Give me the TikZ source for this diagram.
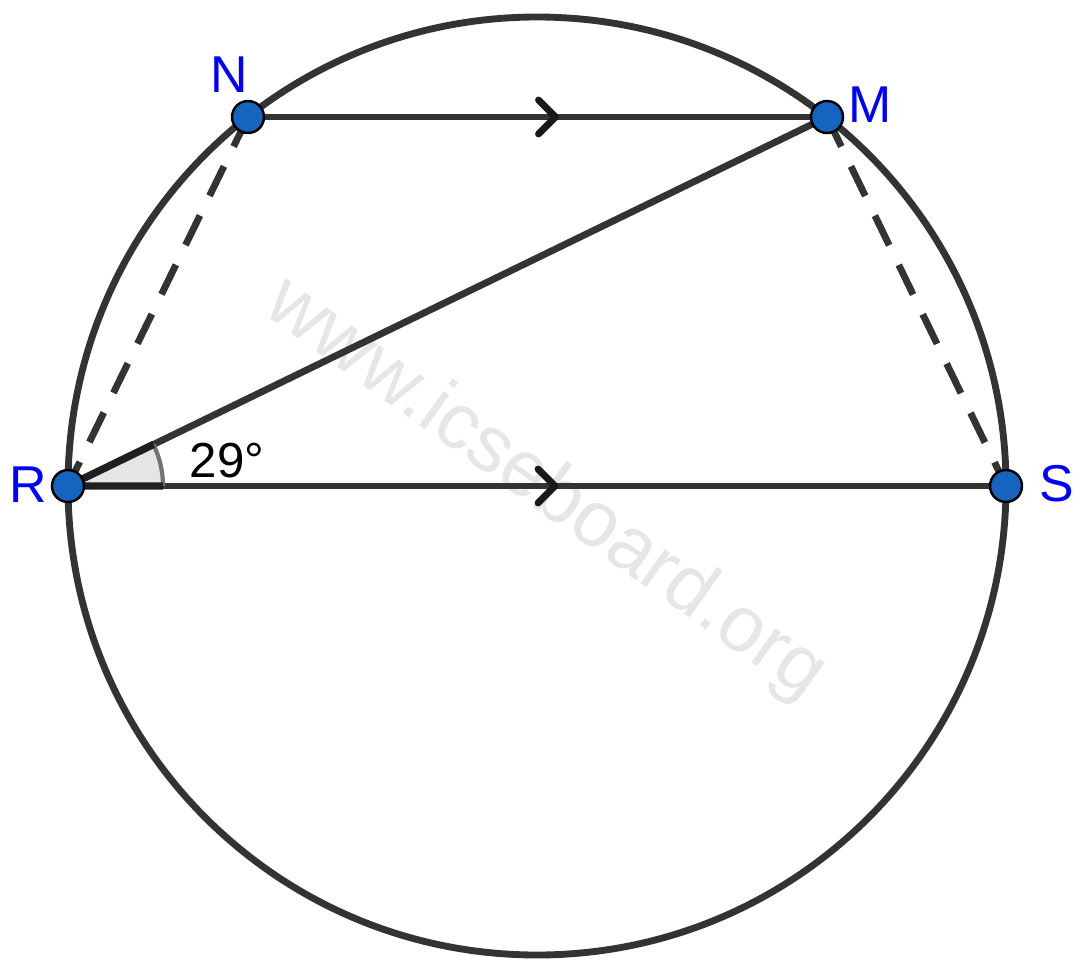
\documentclass[tikz,border=0pt]{standalone}
\usepackage{fontspec}
\setmainfont{Liberation Sans}
\usetikzlibrary{calc}
\definecolor{linegray}{HTML}{333333}
\definecolor{ptblue}{HTML}{1565C0}
\definecolor{lblblue}{HTML}{0000FF}
\definecolor{wmgray}{HTML}{E6E6E6}
\definecolor{angfill}{HTML}{E5E5E5}
\tikzset{
  seg/.style={draw=linegray, line width=3.9pt},
  dashseg/.style={draw=linegray, line width=3.9pt, dash pattern=on 18.7pt off 12.5pt},
  pt/.style={circle, fill=ptblue, draw=black, line width=1.4pt, minimum size=0.64cm, inner sep=0pt},
  lbl/.style={text=lblblue, font=\fontsize{29.5}{32}\selectfont, anchor=base, inner sep=0pt},
  marktip/.style={draw=black!90, line width=3.9pt, line cap=round, line join=round},
}
\begin{document}
\begin{tikzpicture}[x=0.02cm, y=-0.02cm]
\useasboundingbox (0,0) rectangle (1088,974);
% watermark
\node[text=wmgray, font=\fontsize{45}{50}\selectfont, rotate=-35.5] (wm) at (545,490) {www.icseboard.org};
% points
\coordinate (O) at (537,486);
\coordinate (N) at (248,117);
\coordinate (M) at (827,117);
\coordinate (R) at (68,486);
\coordinate (S) at (1006,486);
% circle
\draw[seg] (O) circle[radius=469];
% segments
\draw[seg] (N) -- (M);
\draw[seg] (R) -- (S);
\draw[seg] (R) -- (M);
\draw[dashseg] (N) -- (R);
\draw[dashseg] (M) -- (S);
% angle
\fill[angfill] (R) -- ++(95,0) arc[start angle=0, end angle=-25.93, radius=95] -- cycle;
\draw[draw=black!55, line width=2.4pt] ($(R)+(95,0)$) arc[start angle=0, end angle=-25.93, radius=95];
\draw[draw=black!88, line width=4.2pt] ($(R)!0.1126!(M)$) -- (R) -- ($(R)+(95,0)$);
\node[font=\fontsize{28}{30}\selectfont, anchor=base, inner sep=0pt] (ang) at (227,477) {29°};
% parallel marks
\coordinate (t1) at ($(N)!0.5!(M)+(18,0)$);
\coordinate (t2) at ($(R)!0.5!(S)+(18,0)$);
\draw[marktip] ($(t1)+(-17,-17)$) -- (t1) -- ($(t1)+(-17,17)$);
\draw[marktip] ($(t2)+(-17,-17)$) -- (t2) -- ($(t2)+(-17,17)$);
% point markers
\node[pt] (pN) at (N) {};
\node[pt] (pM) at (M) {};
\node[pt] (pR) at (R) {};
\node[pt] (pS) at (S) {};
% labels
\node[lbl] (lN) at (229.5,92) {N};
\node[lbl] (lM) at (870,122) {M};
\node[lbl] (lR) at (28,502) {R};
\node[lbl] (lS) at (1057,501) {S};
\end{tikzpicture}
\end{document}
